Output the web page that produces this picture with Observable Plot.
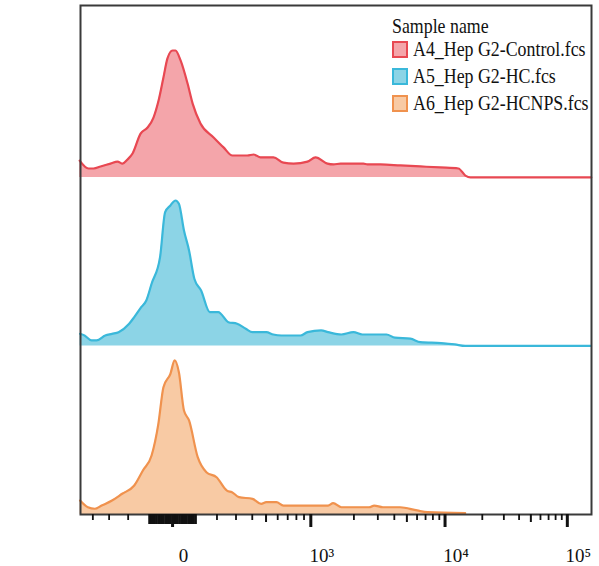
<!DOCTYPE html>
<html><head><meta charset="utf-8">
<script src="https://cdn.jsdelivr.net/npm/d3@7"></script>
<script src="https://cdn.jsdelivr.net/npm/@observablehq/plot@0.6"></script>
<style>
body{margin:0;background:#fff;}
#wrap{position:relative;width:599px;height:566px;}
#legend{position:absolute;left:392px;top:16px;font-family:"Liberation Serif",serif;color:#111;}
#legend .title{height:20px;line-height:20px;font-size:21px;white-space:nowrap;}
#legend .row{height:27px;display:flex;align-items:center;white-space:nowrap;}
#legend .sw{width:12px;height:13px;border:2px solid;margin-right:5px;flex:none;}
#legend .lab{font-size:21px;display:inline-block;transform:scaleX(0.85);transform-origin:left center;}
#legend .title span{display:inline-block;transform:scaleX(0.85);transform-origin:left center;}
</style></head><body><div id="wrap"></div>
<script>
// ---- data ----
const samples = ["A4_Hep G2-Control.fcs", "A5_Hep G2-HC.fcs", "A6_Hep G2-HCNPS.fcs"];
const legendTitle = "Sample name";
const strokeColors = ["#E84852", "#3AB8DA", "#F0924E"];
const fillColors = ["#F4A5AA", "#8CD4E6", "#F8CAA4"];

// histogram bins: logicle display channel (0-256) and count (row-normalised)
const redChannel = [1.6,5.8,8.2,11.5,16.2,19.5,21.9,24.2,26.6,30.4,33.7,36.5,38.9,41.2,43.1,45.5,46.9,49.3,52.6,55.0,58.7,64.9,69.6,73.8,80.9,83.8,87.1,93.2,97.9,102.7,109.3,113.1,118.7,121.6,124.9,135.7,137.6,143.8,153.2,162.7,172.1,180.6,183.9,186.3,243.4];
const redCount = [10.0,5.3,5.3,6.5,8.2,9.4,8.2,10.6,14.2,26.0,29.6,35.5,45.6,59.3,70.6,75.3,75.3,69.4,55.7,43.8,32.0,23.7,17.8,13.0,13.0,13.6,11.9,11.9,8.8,8.2,9.4,11.9,8.2,7.7,8.2,8.2,7.7,7.7,7.1,6.5,5.9,5.3,1.1,0,0];

const blueChannel = [1.8,3.9,7.2,9.6,13.7,16.9,20.0,25.0,27.4,30.7,33.1,35.6,39.6,42.0,44.5,46.9,48.5,50.9,53.3,55.8,59.0,63.1,64.7,67.1,71.9,76.0,80.1,83.3,89.8,93.1,97.0,106.0,109.3,115.7,119.0,125.3,131.0,135.2,146.6,150.6,157.9,162.6,172.4,178.9,183.8,243.0];
const blueCount = [7.2,6.2,3.3,3.3,6.2,7.2,8.2,13.2,17.1,23.0,27.0,36.9,52.7,79.4,83.4,86.3,84.4,68.5,56.7,39.9,32.9,20.1,20.1,20.1,14.1,13.2,10.2,8.2,8.2,6.8,6.2,6.2,8.2,9.2,8.2,6.8,8.2,6.8,6.8,4.9,4.3,2.3,1.7,0.9,0,0];

const orangeChannel = [1.8,5.5,8.8,12.0,16.9,21.7,27.4,31.5,35.6,38.8,41.2,44.5,46.5,48.5,50.9,53.3,57.4,61.5,66.3,71.2,73.6,76.9,83.3,87.4,89.8,94.6,97.9,119.0,121.4,125.3,138.4,140.8,144.9,153.0,161.1,166.0,183.8];
const orangeCount = [8.3,4.3,3.4,5.3,8.3,12.3,17.2,26.1,35.0,53.8,75.5,83.5,91.4,84.4,61.7,55.8,34.0,25.1,22.1,14.2,13.2,10.3,9.3,6.3,7.3,7.3,5.3,5.3,6.7,4.3,4.3,5.3,4.3,4.3,2.4,1.4,0.8];

// axis ticks (fluorescence values)
const majorTickValues = [0, 1000, 10000, 100000];
const majorTickLabels = ["0", "10\u00B3", "10\u2074", "10\u2075"];
const midTickValues = [500, 5000, 50000];
const nearZeroTickValues = [-100,-90,-80,-70,-60,-50,-40,-30,-20,-10,10,20,30,40,50,60,70,80,90,100];
const minorTickValues = [-400,-300,-200,200,300,400,600,700,800,900,2000,3000,4000,6000,7000,8000,9000,20000,30000,40000,60000,70000,80000,90000];

// ---- logicle (biexponential) transform ----
const T = 262144, M = 4.5, W = 0.8, CHANNELS = 256;
const p = (() => { let lo = 1.0001, hi = 1000; for (let i = 0; i < 200; i++) { const m = (lo + hi) / 2; if (2 * m * Math.log10(m) / (m + 1) < W) lo = m; else hi = m; } return (lo + hi) / 2; })();
function S(x) {
  if (x < W) return -S(2 * W - x);
  const u = x - W;
  return T * Math.pow(10, -(M - W)) * (Math.pow(10, u) - p * p * Math.pow(10, -u / p) + p * p - 1);
}
function display(v) { let lo = -M, hi = 2 * M; for (let i = 0; i < 100; i++) { const m = (lo + hi) / 2; if (S(m) < v) lo = m; else hi = m; } return (lo + hi) / 2; }
const chan = v => display(v) / M * CHANNELS;

// ---- build rows ----
const ROW = 100, Y_TOP = 302;
const series = [[redChannel, redCount], [blueChannel, blueCount], [orangeChannel, orangeCount]];
const data = series.map(([ch, ct], i) => ch.map((c, j) => ({sample: samples[i], ch: c, base: (samples.length - 1 - i) * ROW, top: (samples.length - 1 - i) * ROW + ct[j]})));

const labelOf = new Map(majorTickValues.map((v, i) => [chan(v), majorTickLabels[i]]));

const marks = [];
data.forEach((d, i) => {
  marks.push(Plot.areaY(d, {x: "ch", y1: "base", y2: "top", fill: fillColors[i], curve: "monotone-x"}));
  marks.push(Plot.lineY(d, {x: "ch", y: "top", stroke: strokeColors[i], strokeWidth: 2.2, curve: "monotone-x"}));
});
marks.push(Plot.frame({stroke: "#3a3a3a", strokeWidth: 2}));
marks.push(Plot.axisX({ticks: minorTickValues.map(chan), tickSize: 6, strokeWidth: 1.8, stroke: "#111", tickFormat: () => "", label: null}));
marks.push(Plot.axisX({ticks: nearZeroTickValues.map(chan), tickSize: 10, strokeWidth: 2.8, stroke: "#111", tickFormat: () => "", label: null}));
marks.push(Plot.axisX({ticks: midTickValues.map(chan), tickSize: 8, strokeWidth: 2, stroke: "#111", tickFormat: () => "", label: null}));
marks.push(Plot.axisX({ticks: majorTickValues.map(chan), tickSize: 13, strokeWidth: 3, stroke: "#111", tickFormat: () => "", label: null}));
marks.push(Plot.axisX({ticks: majorTickValues.map(chan), tickSize: 0, tickPadding: 34, tickFormat: d => labelOf.get(d), fontSize: 19, dx: 11, fill: "#111", label: null}));

const chart = Plot.plot({
  width: 599, height: 566,
  marginLeft: 80, marginRight: 8, marginTop: 5, marginBottom: 52,
  x: {domain: [2, 243.5], label: null},
  y: {domain: [0, Y_TOP], axis: null},
  style: {background: "transparent", fontFamily: "'Liberation Serif', serif"},
  marks
});
const wrap = document.getElementById("wrap");
wrap.appendChild(chart);

// legend
const lg = document.createElement("div");
lg.id = "legend";
const t = document.createElement("div"); t.className = "title";
const ts = document.createElement("span"); ts.textContent = legendTitle; t.appendChild(ts); lg.appendChild(t);
samples.forEach((s, i) => {
  const r = document.createElement("div"); r.className = "row";
  const sw = document.createElement("div"); sw.className = "sw";
  sw.style.background = fillColors[i]; sw.style.borderColor = strokeColors[i];
  const l = document.createElement("span"); l.className = "lab"; l.textContent = s;
  r.appendChild(sw); r.appendChild(l); lg.appendChild(r);
});
wrap.appendChild(lg);
</script>
</body></html>
